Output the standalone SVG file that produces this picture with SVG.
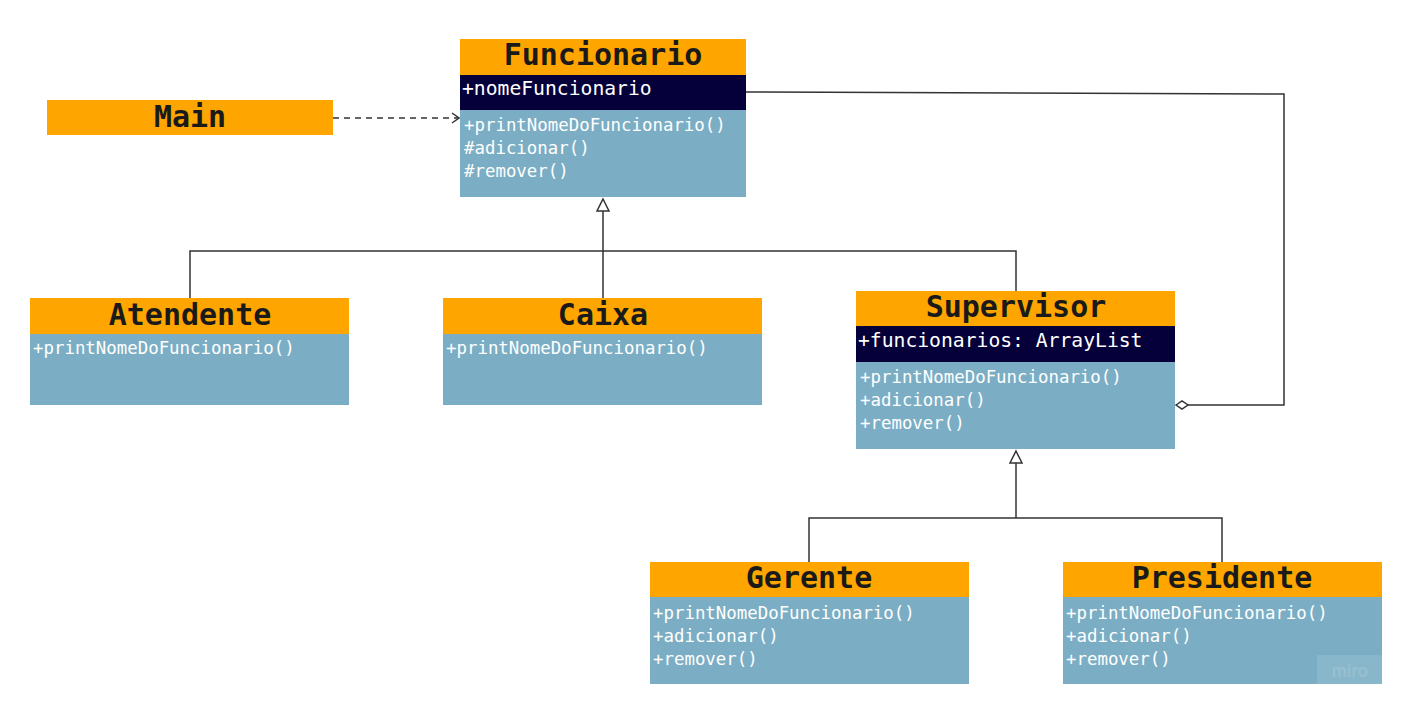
<svg xmlns="http://www.w3.org/2000/svg" width="1405" height="711" viewBox="0 0 1405 711">
<defs>
<style>
.hdr{fill:#FFA500}
.body{fill:#7BAEC4}
.attr{fill:#05003A}
.title{font-family:"DejaVu Sans Mono","Liberation Mono",monospace;font-weight:bold;font-size:30px;fill:#1a1a1a;text-anchor:middle}
.mem{font-family:"DejaVu Sans Mono","Liberation Mono",monospace;font-size:17.4px;fill:#ffffff}
.at{font-family:"DejaVu Sans Mono","Liberation Mono",monospace;font-size:19.7px;fill:#ffffff}
.ln{fill:none;stroke:#333333;stroke-width:1.5}
.tri{fill:#ffffff;stroke:#333333;stroke-width:1.5}
</style>
<marker id="open" viewBox="0 0 10 12" refX="9" refY="6" markerWidth="10" markerHeight="12" markerUnits="userSpaceOnUse" orient="auto">
<path d="M2,1 L9,6 L2,11" fill="none" stroke="#333333" stroke-width="1.5"/>
</marker>
<marker id="dia" viewBox="0 0 16 10" refX="1" refY="5" markerWidth="16" markerHeight="10" markerUnits="userSpaceOnUse" orient="auto">
<path d="M1,5 L7,1 L13,5 L7,9 Z" fill="#ffffff" stroke="#333333" stroke-width="1.5"/>
</marker>
</defs>
<rect width="1405" height="711" fill="#ffffff"/>
<g id="connectors">
<line class="ln" x1="333" y1="118" x2="459" y2="118" stroke-dasharray="6,5" marker-end="url(#open)"/>
<line class="ln" x1="603" y1="298" x2="603" y2="211"/>
<path class="tri" d="M603,199 L609,211 L597,211 Z"/>
<polyline class="ln" points="190,298 190,251 1016,251 1016,291"/>
<line class="ln" x1="1016" y1="518" x2="1016" y2="463"/>
<path class="tri" d="M1016,451 L1022,463 L1010,463 Z"/>
<polyline class="ln" points="809,562 809,518 1222,518 1222,562"/>
<polyline class="ln" points="1176,405 1284,405 1284,94 746,92" marker-start="url(#dia)"/>
</g>
<g id="main">
<rect class="hdr" x="47" y="100" width="286" height="35"/>
<text class="title" x="190" y="127">Main</text>
</g>
<g id="funcionario">
<rect class="hdr" x="460" y="39" width="286" height="36"/>
<rect class="attr" x="460" y="75" width="286" height="35"/>
<rect class="body" x="460" y="110" width="286" height="87"/>
<text class="title" x="603" y="65">Funcionario</text>
<text class="at" x="462" y="95">+nomeFuncionario</text>
<text class="mem" x="464" y="131">+printNomeDoFuncionario()</text>
<text class="mem" x="464" y="154">#adicionar()</text>
<text class="mem" x="464" y="177">#remover()</text>
</g>
<g id="atendente">
<rect class="hdr" x="30" y="298" width="319" height="36"/>
<rect class="body" x="30" y="334" width="319" height="71"/>
<text class="title" x="190" y="325">Atendente</text>
<text class="mem" x="33" y="354">+printNomeDoFuncionario()</text>
</g>
<g id="caixa">
<rect class="hdr" x="443" y="298" width="319" height="36"/>
<rect class="body" x="443" y="334" width="319" height="71"/>
<text class="title" x="603" y="325">Caixa</text>
<text class="mem" x="446" y="354">+printNomeDoFuncionario()</text>
</g>
<g id="supervisor">
<rect class="hdr" x="856" y="291" width="319" height="35"/>
<rect class="attr" x="856" y="326" width="319" height="36"/>
<rect class="body" x="856" y="362" width="319" height="87"/>
<text class="title" x="1016" y="317">Supervisor</text>
<text class="at" x="858" y="347">+funcionarios: ArrayList</text>
<text class="mem" x="860" y="383">+printNomeDoFuncionario()</text>
<text class="mem" x="860" y="406">+adicionar()</text>
<text class="mem" x="860" y="429">+remover()</text>
</g>
<g id="gerente">
<rect class="hdr" x="650" y="562" width="319" height="35"/>
<rect class="body" x="650" y="597" width="319" height="87"/>
<text class="title" x="809" y="588">Gerente</text>
<text class="mem" x="653" y="619">+printNomeDoFuncionario()</text>
<text class="mem" x="653" y="642">+adicionar()</text>
<text class="mem" x="653" y="665">+remover()</text>
</g>
<g id="presidente">
<rect class="hdr" x="1063" y="562" width="319" height="35"/>
<rect class="body" x="1063" y="597" width="319" height="87"/>
<text class="title" x="1222" y="588">Presidente</text>
<text class="mem" x="1066" y="619">+printNomeDoFuncionario()</text>
<text class="mem" x="1066" y="642">+adicionar()</text>
<text class="mem" x="1066" y="665">+remover()</text>
<rect x="1317" y="655" width="65" height="29" fill="#ffffff" fill-opacity="0.1"/>
<text x="1350" y="677" font-family="Lato,'Liberation Sans',sans-serif" font-weight="bold" font-size="18" fill="#ffffff" fill-opacity="0.15" text-anchor="middle">miro</text>
</g>
</svg>
